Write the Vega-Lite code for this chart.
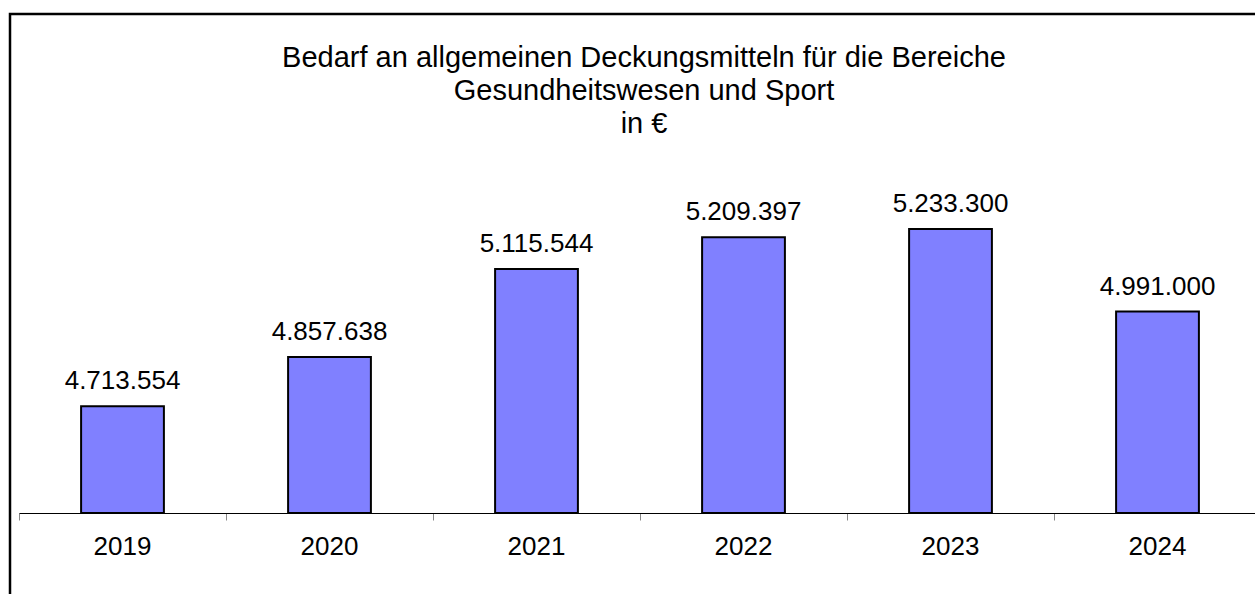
{
  "$schema": "https://vega.github.io/schema/vega-lite/v6.json",
  "autosize": {"type": "none"},
  "padding": {"left": 10, "top": 14, "right": -55, "bottom": -120},
  "width": 1300,
  "height": 700,
  "background": "white",
  "view": {"stroke": "black", "strokeWidth": 2.5, "fill": "white"},
  "title": {
    "text": ["Bedarf an allgemeinen Deckungsmitteln für die Bereiche", "Gesundheitswesen und Sport", "in €"],
    "anchor": "middle",
    "offset": 0,
    "dx": -16,
    "dy": 148,
    "baseline": "alphabetic",
    "lineHeight": 33,
    "font": "Liberation Sans",
    "fontSize": 29,
    "fontWeight": "normal",
    "color": "black"
  },
  "data": {
    "values": [
      {"year": "2019", "value": 4713554},
      {"year": "2020", "value": 4857638},
      {"year": "2021", "value": 5115544},
      {"year": "2022", "value": 5209397},
      {"year": "2023", "value": 5233300},
      {"year": "2024", "value": 4991000}
    ]
  },
  "encoding": {
    "x": {
      "field": "year",
      "type": "ordinal",
      "scale": {"range": [9, 1251], "paddingInner": 0, "paddingOuter": 0},
      "axis": {
        "title": null,
        "domainColor": "black",
        "domainWidth": 1,
        "tickColor": "#888888",
        "tickSize": 7,
        "tickWidth": 1,
        "bandPosition": 0,
        "labelFont": "Liberation Sans",
        "labelFontSize": 26,
        "labelColor": "black",
        "labelBaseline": "alphabetic",
        "labelPadding": 34,
        "labelAngle": 0,
        "offset": -201,
        "grid": false
      }
    },
    "y": {
      "field": "value",
      "type": "quantitative",
      "scale": {"domain": [4400000, 5600000], "range": [499, 90], "zero": false, "nice": false},
      "axis": null
    }
  },
  "layer": [
    {
      "mark": {"type": "bar", "fill": "#8080ff", "stroke": "black", "strokeWidth": 2, "width": {"band": 0.4}},
      "encoding": {"y2": {"datum": 4400000}}
    },
    {
      "mark": {"type": "text", "baseline": "alphabetic", "dy": -17, "font": "Liberation Sans", "fontSize": 26, "color": "black"},
      "encoding": {"text": {"field": "value", "type": "quantitative", "format": ",.0f"}}
    }
  ],
  "config": {
    "locale": {"number": {"decimal": ",", "thousands": ".", "grouping": [3], "currency": ["", " €"]}}
  }
}
